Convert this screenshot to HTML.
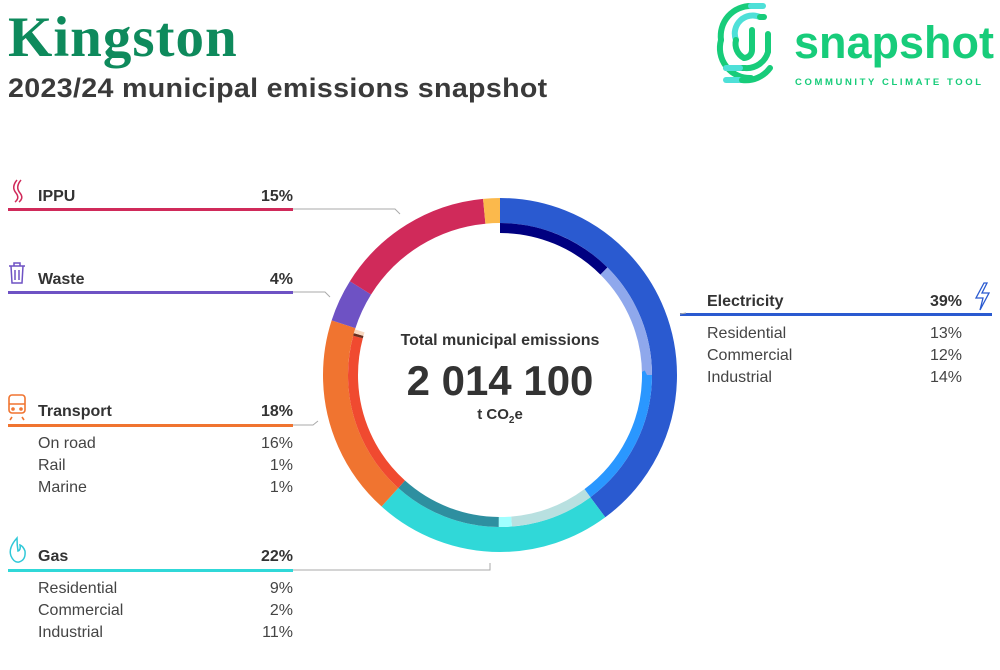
<!DOCTYPE html>
<html><head><meta charset="utf-8"><style>
body{margin:0;width:1000px;height:670px;background:#fff;overflow:hidden;font-family:"Liberation Sans",sans-serif;color:#333;position:relative}
.a{position:absolute;white-space:nowrap}
.lab{font-size:16px;font-weight:bold;color:#333}
.sub{font-size:16px;color:#444}
.r{text-align:right}
</style></head><body>
<div class="a" style="left:8px;top:5px;font-family:'Liberation Serif',serif;font-weight:bold;font-size:57px;color:#0e8a5c;letter-spacing:1px">Kingston</div>
<div class="a" style="left:8px;top:73px;font-size:27px;font-weight:bold;color:#3a3a3a;letter-spacing:0.3px;transform:scaleX(1.06);transform-origin:0 0">2023/24 municipal emissions snapshot</div>

<svg class="a" style="left:0;top:0" width="1000" height="670">
 <g fill="none" stroke-linecap="round" stroke-width="6">
  <path d="M751 6 A30 30 0 0 0 721 40" stroke="#17cc7a"/>
  <path d="M721 40 A30 30 0 0 0 751 78" stroke="#17cc7a"/>
  <path d="M751 6 L763 6" stroke="#4ee0d8"/>
  <path d="M760 17 A18 18 0 0 0 736 40" stroke="#4ee0d8"/>
  <path d="M736 40 A16 16 0 0 0 744 58" stroke="#17cc7a"/>
  <path d="M760 17 L764 17" stroke="#17cc7a"/>
  <path d="M752 30 L752 50 A8 8 0 0 1 744 58" stroke="#17cc7a"/>
  <path d="M768 34 L768 52 A22 22 0 0 1 745 68 L726 68" stroke="#17cc7a"/>
  <path d="M726 68 L740 68" stroke="#4ee0d8"/>
  <path d="M726 80 L742 80" stroke="#4ee0d8"/>
  <path d="M742 80 A30 30 0 0 0 770 68" stroke="#17cc7a"/>
 </g>
 <text x="794" y="58" font-family="Liberation Sans" font-weight="bold" font-size="45" fill="#17cc7a">snapshot</text>
 <text x="795" y="85" font-family="Liberation Sans" font-weight="bold" font-size="9.5" letter-spacing="2.6" fill="#17cc7a">COMMUNITY CLIMATE TOOL</text>

 <rect x="8" y="208" width="285" height="3" fill="#d02a5a"/>
 <rect x="8" y="291" width="285" height="3" fill="#6e52c4"/>
 <rect x="8" y="424" width="285" height="3" fill="#f07430"/>
 <rect x="8" y="569" width="285" height="3" fill="#30d8d8"/>
 <rect x="680" y="313" width="312" height="3" fill="#2a5ad0"/>
 <g fill="none" stroke="#aaa" stroke-width="1">
  <path d="M293 209 H395 L400 214"/>
  <path d="M293 292 H325 L330 297"/>
  <path d="M293 425 H313 L318 421"/>
  <path d="M293 570 H490 V563"/>
  <path d="M680 314 L686 313"/>
 </g>

 <g transform="rotate(-90 500 375)" fill="none">
  <circle cx="500" cy="375" r="164.5" stroke-width="25" pathLength="360" stroke="#2a5ad0" stroke-dasharray="143.5 400" stroke-dashoffset="0"/>
  <circle cx="500" cy="375" r="164.5" stroke-width="25" pathLength="360" stroke="#30d8d8" stroke-dasharray="78.5 400" stroke-dashoffset="-143.5"/>
  <circle cx="500" cy="375" r="164.5" stroke-width="25" pathLength="360" stroke="#f07430" stroke-dasharray="66 400" stroke-dashoffset="-222"/>
  <circle cx="500" cy="375" r="164.5" stroke-width="25" pathLength="360" stroke="#6e52c4" stroke-dasharray="14 400" stroke-dashoffset="-288"/>
  <circle cx="500" cy="375" r="164.5" stroke-width="25" pathLength="360" stroke="#d02a5a" stroke-dasharray="52.5 400" stroke-dashoffset="-302"/>
  <circle cx="500" cy="375" r="164.5" stroke-width="25" pathLength="360" stroke="#fbb94c" stroke-dasharray="5.5 400" stroke-dashoffset="-354.5"/>
  <circle cx="500" cy="375" r="147" stroke-width="10" pathLength="360" stroke="#000080" stroke-dasharray="45 400" stroke-dashoffset="0"/>
  <circle cx="500" cy="375" r="147" stroke-width="10" pathLength="360" stroke="#8fa8ec" stroke-dasharray="45 400" stroke-dashoffset="-45"/>
  <circle cx="500" cy="375" r="147" stroke-width="10" pathLength="360" stroke="#2a97ff" stroke-dasharray="53.5 400" stroke-dashoffset="-90"/>
  <circle cx="500" cy="375" r="147" stroke-width="10" pathLength="360" stroke="#b8e0e0" stroke-dasharray="32 400" stroke-dashoffset="-143.5"/>
  <circle cx="500" cy="375" r="147" stroke-width="10" pathLength="360" stroke="#a0ffff" stroke-dasharray="5 400" stroke-dashoffset="-175.5"/>
  <circle cx="500" cy="375" r="147" stroke-width="10" pathLength="360" stroke="#2e8fa0" stroke-dasharray="41.5 400" stroke-dashoffset="-180.5"/>
  <circle cx="500" cy="375" r="147" stroke-width="10" pathLength="360" stroke="#f04a30" stroke-dasharray="63 400" stroke-dashoffset="-222"/>
  <circle cx="500" cy="375" r="147" stroke-width="10" pathLength="360" stroke="#6a3020" stroke-dasharray="1 400" stroke-dashoffset="-285"/>
  <circle cx="500" cy="375" r="147" stroke-width="10" pathLength="360" stroke="#f8d8c0" stroke-dasharray="1.5 400" stroke-dashoffset="-286"/>
 </g>
 <text x="500" y="345" text-anchor="middle" font-family="Liberation Sans" font-weight="bold" font-size="16" fill="#333">Total municipal emissions</text>
 <text x="500" y="395" text-anchor="middle" font-family="Liberation Sans" font-weight="bold" font-size="42" fill="#333">2 014 100</text>
 <text x="500" y="419" text-anchor="middle" font-family="Liberation Sans" font-weight="bold" font-size="15" fill="#333">t CO<tspan font-size="10" dy="4">2</tspan><tspan dy="-4">e</tspan></text>

 <path d="M17 180 Q11 187 16 193 Q20 198 15 202 M21 180 Q15 187 20 193 Q24 198 19 202" stroke="#d02a5a" stroke-width="1.5" fill="none"/>
 <g stroke="#6e52c4" stroke-width="1.5" fill="none"><path d="M9 266 H25 M14 266 V263 H20 V266 M11 266 L12 283 H22 L23 266 M15 270 V280 M19 270 V280"/></g>
 <g stroke="#f07430" stroke-width="1.6" fill="none"><rect x="9" y="395" width="16" height="18" rx="3"/><path d="M9 404 H25 M12 417 L10 420 M22 417 L24 420"/><circle cx="13" cy="409" r="1"/><circle cx="21" cy="409" r="1"/></g>
 <path d="M17 538 Q8 548 11 556 Q14 563 19 562 Q26 560 25 551 Q23 546 20 545 Q21 550 18 551 Q17 545 17 538 Z" stroke="#30c8d8" stroke-width="1.5" fill="none"/>
 <path d="M984 283 L976 298 H983 L980 310 L989 293 H982 L987 283 Z" stroke="#2a5ad0" stroke-width="1.3" fill="none"/>
</svg>

<div class="a lab" style="left:38px;top:188px">IPPU</div><div class="a lab r" style="left:193px;width:100px;top:188px">15%</div>
<div class="a lab" style="left:38px;top:271px">Waste</div><div class="a lab r" style="left:193px;width:100px;top:271px">4%</div>
<div class="a lab" style="left:38px;top:403px">Transport</div><div class="a lab r" style="left:193px;width:100px;top:403px">18%</div>
<div class="a sub" style="left:38px;top:435px">On road</div><div class="a sub r" style="left:193px;width:100px;top:435px">16%</div>
<div class="a sub" style="left:38px;top:457px">Rail</div><div class="a sub r" style="left:193px;width:100px;top:457px">1%</div>
<div class="a sub" style="left:38px;top:479px">Marine</div><div class="a sub r" style="left:193px;width:100px;top:479px">1%</div>
<div class="a lab" style="left:38px;top:548px">Gas</div><div class="a lab r" style="left:193px;width:100px;top:548px">22%</div>
<div class="a sub" style="left:38px;top:580px">Residential</div><div class="a sub r" style="left:193px;width:100px;top:580px">9%</div>
<div class="a sub" style="left:38px;top:602px">Commercial</div><div class="a sub r" style="left:193px;width:100px;top:602px">2%</div>
<div class="a sub" style="left:38px;top:624px">Industrial</div><div class="a sub r" style="left:193px;width:100px;top:624px">11%</div>

<div class="a lab" style="left:707px;top:293px">Electricity</div><div class="a lab r" style="left:862px;width:100px;top:293px">39%</div>
<div class="a sub" style="left:707px;top:325px">Residential</div><div class="a sub r" style="left:862px;width:100px;top:325px">13%</div>
<div class="a sub" style="left:707px;top:347px">Commercial</div><div class="a sub r" style="left:862px;width:100px;top:347px">12%</div>
<div class="a sub" style="left:707px;top:369px">Industrial</div><div class="a sub r" style="left:862px;width:100px;top:369px">14%</div>
</body></html>
